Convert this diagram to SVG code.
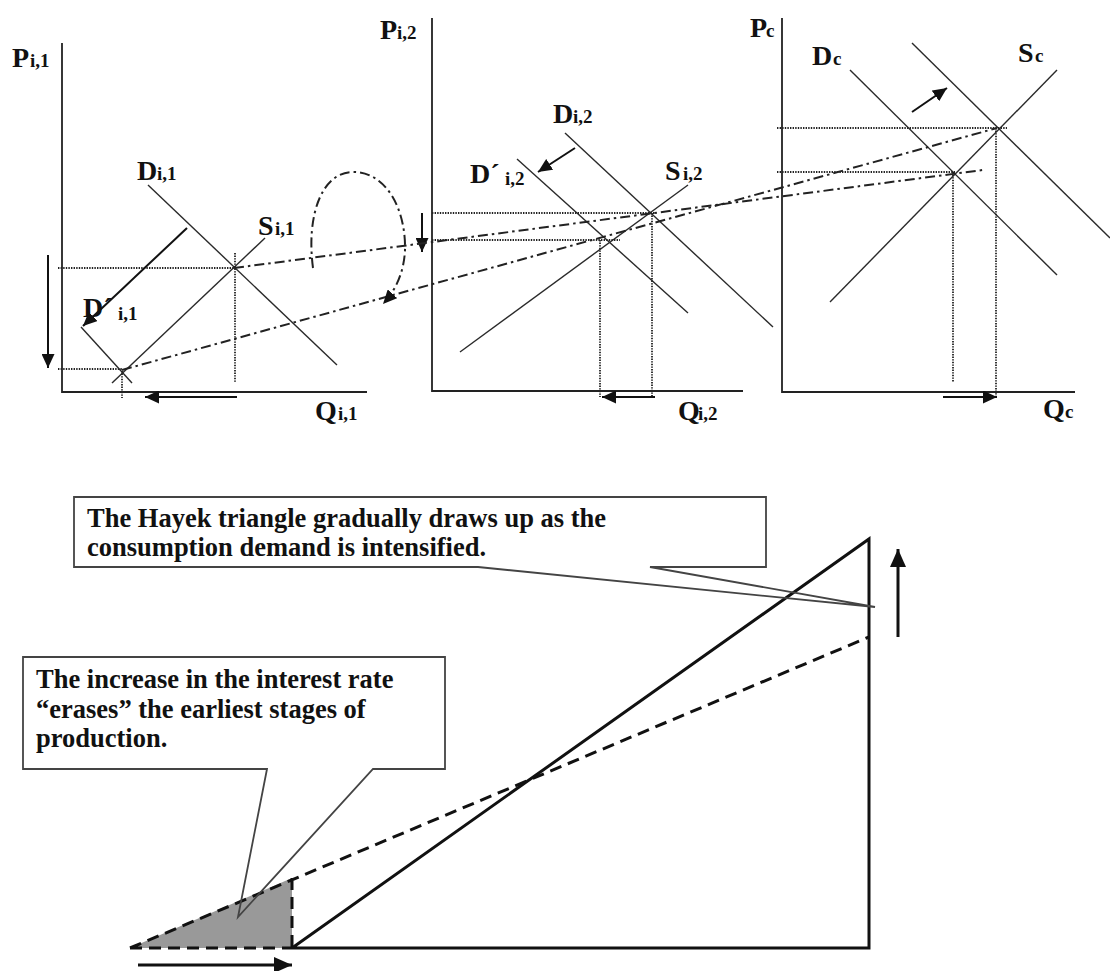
<svg xmlns="http://www.w3.org/2000/svg" width="1110" height="971" viewBox="0 0 1110 971">
<defs>
<style>
.ax{stroke:#222;stroke-width:1.8;fill:none}
.cv{stroke:#2a2a2a;stroke-width:1.4;fill:none}
.dot{stroke:#222;stroke-width:1.8;stroke-dasharray:1.4 1.2;fill:none}
.dd{stroke:#222;stroke-width:2;stroke-dasharray:10 4 2.5 4;fill:none}
.arr{stroke:#111;stroke-width:2;fill:none;marker-end:url(#ah)}
.lbl{font-family:"Liberation Serif","Times New Roman",serif;font-weight:bold;font-size:28px;fill:#111}
.sub{font-size:19px}
.thick{stroke:#111;stroke-width:3;fill:none}
.dash{stroke:#111;stroke-width:3;stroke-dasharray:12 7;fill:none}
.call{stroke:#444;stroke-width:1.8;fill:none}
.ct{font-family:"Liberation Serif","Times New Roman",serif;font-weight:bold;font-size:26.5px;fill:#111}
</style>
<marker id="ah" markerUnits="userSpaceOnUse" markerWidth="15" markerHeight="13" refX="14" refY="6.5" orient="auto"><path d="M0,0 L14,6.5 L0,13 Z" fill="#111"/></marker>
<marker id="ahb" markerUnits="userSpaceOnUse" markerWidth="19" markerHeight="17" refX="18" refY="8" orient="auto"><path d="M0,0 L18,8 L0,16 Z" fill="#111"/></marker>
</defs>
<rect width="1110" height="971" fill="#fff"/>

<g id="graph1">
<path class="ax" d="M62,43 V392 H367"/>
<line class="cv" x1="148" y1="185" x2="337" y2="365"/>
<line class="cv" x1="112" y1="383" x2="265" y2="238"/>
<line class="cv" x1="81" y1="327" x2="132" y2="383"/>
<path class="dot" d="M58,268 H234 M58,369 H122 M235,253 V382 M122,371 V398"/>
<line class="arr" x1="187" y1="228" x2="83" y2="326"/>
<line class="arr" x1="48" y1="255" x2="48" y2="368"/>
<line class="arr" x1="237" y1="397" x2="145" y2="397"/>
<text class="lbl" x="12" y="67">P<tspan class="sub" x="30">i,1</tspan></text>
<text class="lbl" x="137" y="180">D<tspan class="sub" x="157">i,1</tspan></text>
<text class="lbl" x="258" y="235">S<tspan class="sub" x="275">i,1</tspan></text>
<text class="lbl" x="83" y="317">D´<tspan class="sub" x="118" y="320">i,1</tspan></text>
<text class="lbl" x="315" y="420">Q<tspan class="sub" x="338">i,1</tspan></text>
</g>

<g id="graph2">
<path class="ax" d="M432,18 V391 H743"/>
<line class="cv" x1="565" y1="133" x2="773" y2="327"/>
<line class="cv" x1="517" y1="159" x2="688" y2="313"/>
<line class="cv" x1="460" y1="352" x2="688" y2="185"/>
<path class="dot" d="M432,213 H655 M432,240 H620 M652,213 V397 M600,240 V397"/>
<line class="arr" x1="575" y1="148" x2="538" y2="172"/>
<line class="arr" x1="422" y1="213" x2="422" y2="252"/>
<line class="arr" x1="655" y1="397" x2="602" y2="397"/>
<text class="lbl" x="380" y="39">P<tspan class="sub" x="397">i,2</tspan></text>
<text class="lbl" x="553" y="123">D<tspan class="sub" x="573">i,2</tspan></text>
<text class="lbl" x="470" y="183">D´<tspan class="sub" x="505" y="185">i,2</tspan></text>
<text class="lbl" x="665" y="180">S<tspan class="sub" x="683">i,2</tspan></text>
<text class="lbl" x="678" y="420">Q<tspan class="sub" x="698">i,2</tspan></text>
</g>

<g id="graph3">
<path class="ax" d="M782,18 V392 H1075"/>
<line class="cv" x1="850" y1="70" x2="1057" y2="275"/>
<line class="cv" x1="912" y1="43" x2="1110" y2="238"/>
<line class="cv" x1="830" y1="302" x2="1057" y2="70"/>
<path class="dot" d="M777,128 H1007 M777,172 H955 M953,172 V382 M996,128 V397"/>
<line class="arr" x1="912" y1="112" x2="947" y2="88"/>
<line class="arr" x1="943" y1="397" x2="997" y2="397"/>
<text class="lbl" x="750" y="37">P<tspan class="sub" x="766">c</tspan></text>
<text class="lbl" x="812" y="65">D<tspan class="sub" x="833">c</tspan></text>
<text class="lbl" x="1018" y="62">S<tspan class="sub" x="1035">c</tspan></text>
<text class="lbl" x="1043" y="418">Q<tspan class="sub" x="1065">c</tspan></text>
</g>

<g id="connectors">
<line class="dd" x1="234" y1="268" x2="983" y2="170"/>
<line class="dd" x1="122" y1="370" x2="997" y2="128"/>
<path class="dd" d="M313,268 C306,215 322,172 353,172 C388,172 406,212 405,250 C404,272 396,290 383,304" style="marker-end:url(#ah)"/>
</g>

<g id="hayek-triangle">
<path d="M130,948 L292,878 L292,948 Z" fill="#999"/>
<path class="dash" d="M130,948 L869,637 M130,948 H292 M292,878 V948"/>
<path class="thick" d="M292,948 L869,539 V948 H292"/>
<line class="thick" x1="898" y1="637" x2="898" y2="549" style="marker-end:url(#ahb)"/>
<line class="thick" x1="138" y1="965" x2="292" y2="965" style="marker-end:url(#ahb)"/>
</g>

<g id="callout-top">
<path class="call" d="M478,567 L875,607 L650,567 H766 V497 H74 V567 Z"/>
<text class="ct" x="87" y="527">The Hayek triangle gradually draws up as the</text>
<text class="ct" x="87" y="556">consumption demand is intensified.</text>
</g>

<g id="callout-bottom">
<path class="call" d="M267,769 L238,917 L373,769 H445 V657 H23 V769 Z"/>
<text class="ct" x="36" y="688">The increase in the interest rate</text>
<text class="ct" x="36" y="718">“erases” the earliest stages of</text>
<text class="ct" x="36" y="747">production.</text>
</g>
</svg>
